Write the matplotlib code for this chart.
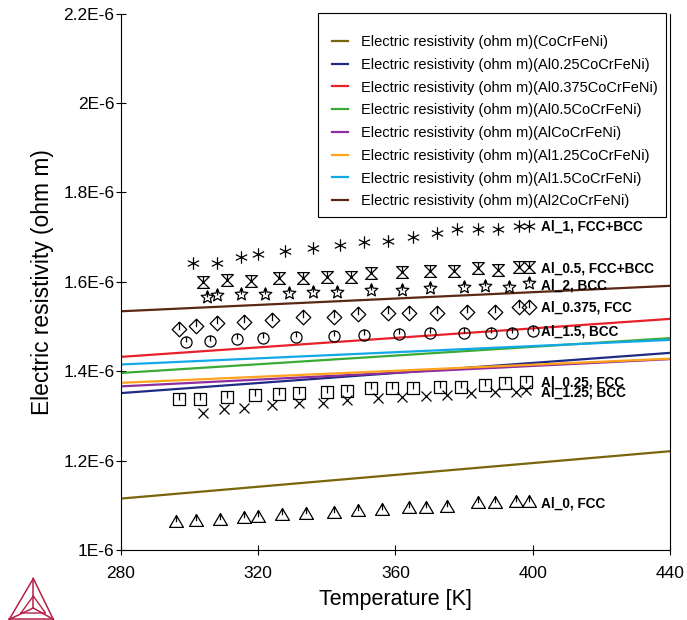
import matplotlib
matplotlib.use("Agg")
import matplotlib.pyplot as plt
from matplotlib.path import Path
from matplotlib.patches import Rectangle
from matplotlib.ticker import FuncFormatter, MultipleLocator

plt.rcParams['font.family'] = ['Liberation Sans', 'DejaVu Sans']

# calculated resistivity (1E-6 ohm m), read at 280 K and 440 K
calc_T = [280, 440]
calc_names = ['CoCrFeNi', 'Al0.25CoCrFeNi', 'Al0.375CoCrFeNi', 'Al0.5CoCrFeNi',
              'AlCoCrFeNi', 'Al1.25CoCrFeNi', 'Al1.5CoCrFeNi', 'Al2CoCrFeNi']
calc_colors = ['#7a6508', '#202a85', '#e8202a', '#3aaa35',
               '#8e2d9e', '#ffa21c', '#11a8e8', '#5b2814']
calc_vals = [[1.115, 1.221], [1.351, 1.441], [1.432, 1.517], [1.396, 1.474],
             [1.366, 1.427], [1.374, 1.428], [1.415, 1.470], [1.534, 1.591]]

# experimental points (1E-6 ohm m)
al0_T = [296, 302, 309, 316, 320, 327, 334, 342, 349, 356, 364, 369, 375, 384, 389, 395, 399]
al0_r = [1.0655, 1.0671, 1.0694, 1.0732, 1.0767, 1.0799, 1.0821, 1.0843, 1.0895,
         1.0911, 1.0969, 1.0969, 1.0991, 1.1067, 1.1067, 1.1103, 1.1103]
al025_T = [297, 303, 311, 319, 326, 332, 340, 346, 353, 359, 365, 373, 379, 386, 392, 398]
al025_r = [1.3371, 1.3378, 1.3416, 1.3461, 1.3490, 1.3506, 1.3528, 1.3564, 1.3631,
           1.3631, 1.3635, 1.3653, 1.3653, 1.3691, 1.3729, 1.3765]
al125_T = [304, 310, 316, 324, 332, 339, 346, 355, 362, 369, 375, 382, 389, 395, 398]
al125_r = [1.3072, 1.3148, 1.3183, 1.3237, 1.3282, 1.3295, 1.3356, 1.3394, 1.3416,
           1.3445, 1.3468, 1.3506, 1.3541, 1.3541, 1.3579]
al15_T = [299, 306, 314, 321.5, 331, 342, 351, 361, 370, 380, 388, 394, 400]
al15_r = [1.4660, 1.4682, 1.4714, 1.4736, 1.4758, 1.4787, 1.4817, 1.4832, 1.4861,
          1.4861, 1.4861, 1.4861, 1.4906]
al0375_T = [297, 302, 308, 316, 324, 333, 342, 349, 358, 364, 372, 381, 389, 396, 399]
al0375_r = [1.4937, 1.5011, 1.5072, 1.5107, 1.5145, 1.5206, 1.5219, 1.5280, 1.5295,
            1.5309, 1.5295, 1.5331, 1.5331, 1.5443, 1.5430]
al2_T = [305, 308, 315, 322, 329, 336, 343, 353, 362, 370, 380, 386, 393, 399]
al2_r = [1.5667, 1.5705, 1.5727, 1.5727, 1.5743, 1.5779, 1.5779, 1.5817, 1.5817,
         1.5855, 1.5877, 1.5906, 1.5890, 1.5966]
al05_T = [304, 311, 318, 326, 333, 340, 347, 353, 362, 370, 377, 384, 390, 396, 399]
al05_r = [1.6002, 1.6040, 1.6025, 1.6092, 1.6078, 1.6114, 1.6114, 1.6190, 1.6230,
          1.6242, 1.6248, 1.6302, 1.6264, 1.6338, 1.6338]
al1_T = [301, 308, 315, 320, 328, 336, 344, 351, 358, 365, 372, 378, 384, 390, 396, 399]
al1_r = [1.6427, 1.6427, 1.6548, 1.6615, 1.6689, 1.6749, 1.6823, 1.6884, 1.6920,
         1.7002, 1.7085, 1.7174, 1.7174, 1.7174, 1.7248, 1.7248]

label_texts = ['Al_1, FCC+BCC', 'Al_0.5, FCC+BCC', 'Al_2, BCC', 'Al_0.375, FCC',
               'Al_1.5, BCC', 'Al_0.25, FCC', 'Al_1.25, BCC', 'Al_0, FCC']
label_y = [1.7226, 1.6302, 1.5928, 1.5421, 1.4884, 1.3743, 1.3528, 1.1045]

M, L, C = Path.MOVETO, Path.LINETO, Path.CLOSEPOLY
tick = Path([(0, 1), (0, 0)], [M, L])


def outline_tick(pts, top):
    verts = list(pts) + [pts[0], (0, top), (0, -0.1)]
    codes = [M] + [L] * (len(pts) - 1) + [C, M, L]
    return Path(verts, codes)


tri_m = outline_tick([(-1, -0.85), (1, -0.85), (0, 0.85)], 0.85)
sq_m = outline_tick([(-1, -1), (1, -1), (1, 1), (-1, 1)], 1)
dia_m = outline_tick([(0, 1), (1, 0), (0, -1), (-1, 0)], 1)
hour_m = outline_tick([(-1, 1), (1, 1), (-1, -1), (1, -1)], 1)
circ_m = Path.make_compound_path(Path.unit_circle(), tick)
star_m = Path.make_compound_path(Path.unit_regular_star(5, 0.45), tick)
ast_m = Path([(0, 1), (0, -1), (-0.9, 0.45), (0.9, -0.45), (-0.9, -0.45), (0.9, 0.45)],
             [M, L, M, L, M, L])

fig = plt.figure(figsize=(6.87, 6.2), dpi=100)
ax = fig.add_axes([120.7 / 687, 1 - 550 / 620, 549.3 / 687, 536.4 / 620])

for T, r, mk, ms in [(al0_T, al0_r, tri_m, 10), (al025_T, al025_r, sq_m, 8),
                     (al125_T, al125_r, 'x', 7.5), (al15_T, al15_r, circ_m, 8),
                     (al0375_T, al0375_r, dia_m, 10.5), (al2_T, al2_r, star_m, 9.5),
                     (al05_T, al05_r, hour_m, 8.5), (al1_T, al1_r, ast_m, 9)]:
    ax.plot(T, [v * 1e-6 for v in r], linestyle='none', marker=mk, ms=ms,
            mfc='none', mec='black', mew=0.9, zorder=3)

for name, col, v in zip(calc_names, calc_colors, calc_vals):
    ax.plot(calc_T, [x * 1e-6 for x in v], color=col, lw=1.6,
            label='Electric resistivity (ohm m)(%s)' % name, zorder=2)

for txt, y in zip(label_texts, label_y):
    ax.text(402.5, y * 1e-6, txt, fontsize=9.8, fontweight='bold', va='center', ha='left')

ax.set_xlim(280, 440)
ax.set_ylim(1.0e-6, 2.2e-6)
ax.xaxis.set_major_locator(MultipleLocator(40))
ax.yaxis.set_major_locator(MultipleLocator(0.2e-6))
ax.yaxis.set_major_formatter(FuncFormatter(
    lambda v, p: ('%.1f' % (v * 1e6)).rstrip('0').rstrip('.') + 'E-6'))
ax.spines['top'].set_visible(False)
ax.tick_params(direction='inout', length=7, width=0.8, labelsize=12.5)
ax.tick_params(axis='x', pad=8)
ax.tick_params(axis='y', pad=1)
ax.set_xlabel('Temperature [K]', fontsize=15.5, labelpad=6)
ax.set_ylabel('Electric resistivity (ohm m)', fontsize=16.4, labelpad=7)

# legend box frame, then the entries placed inside it
ax.add_patch(Rectangle((0.3592, 0.6208), 0.6335, 0.3794, transform=ax.transAxes,
                       facecolor='white', edgecolor='black', lw=0.8,
                       clip_on=False, zorder=4.5))
leg = ax.legend(loc='upper left', bbox_to_anchor=(0.384, 0.96), borderaxespad=0,
                borderpad=0, frameon=False, fontsize=10.5, handlelength=1.1,
                handletextpad=0.92, labelspacing=0.6)
leg.set_zorder(5)

# logo in the lower left corner, drawn in pixel units
lax = fig.add_axes([0, 0, 60 / 687, 45 / 620])
lax.set_xlim(0, 60)
lax.set_ylim(620, 575)
lax.axis('off')
A, BL, BR, P = (33.3, 578.5), (9.3, 619.3), (53.3, 619.3), (33.3, 608)
logo_col = '#b52048'
for a, b in [(A, BL), (BL, BR), (BR, A), (A, P), (P, BL), (P, BR)]:
    lax.plot([a[0], b[0]], [a[1], b[1]], color=logo_col, lw=1.1)
q1, q2, q3 = (21, 613), (33.3, 596), (45.5, 613)
lax.plot([q1[0], q2[0], q3[0], q1[0]], [q1[1], q2[1], q3[1], q1[1]], color=logo_col, lw=1.0)

fig.savefig('out.png', dpi=100)
